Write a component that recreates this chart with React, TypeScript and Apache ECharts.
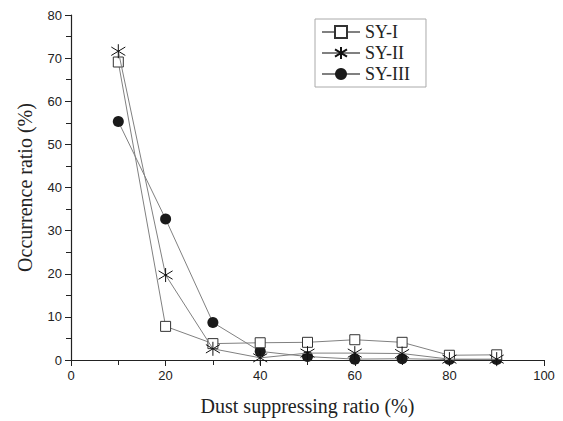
import React, { useEffect, useRef } from "react";
import * as echarts from "echarts";

const xValues = [10, 20, 30, 40, 50, 60, 70, 80, 90];
const syI = [69.1, 7.8, 3.8, 4.0, 4.1, 4.7, 4.1, 1.1, 1.2];
const syII = [71.6, 19.7, 2.6, 0.5, 1.6, 1.6, 1.5, 0.2, 0.2];
const syIII = [55.3, 32.7, 8.7, 2.0, 0.8, 0.2, 0.3, 0.1, 0.1];
const seriesNames = ["SY-I", "SY-II", "SY-III"];

const starPath = "path://M0,-10L0,10M-8,-6L8,6M-8,6L8,-6";

export default function App() {
  const ref = useRef<HTMLDivElement>(null);
  useEffect(() => {
    const chart = echarts.init(ref.current!, null, { renderer: "svg" });
    const mk = (arr: number[]) => xValues.map((x, i) => [x, arr[i]]);
    const lineStyle = { color: "#808080", width: 1 };
    chart.setOption({
      animation: false,
      backgroundColor: "#fff",
      grid: { left: 71, right: 19, top: 15, bottom: 57 },
      legend: {
        orient: "vertical",
        left: 315,
        top: 19,
        width: 111,
        borderColor: "#aaa",
        borderWidth: 1,
        padding: [4, 16, 4, 6],
        itemGap: 3,
        itemWidth: 38,
        itemHeight: 15,
        textStyle: { fontFamily: "Liberation Serif", fontSize: 18, color: "#222" },
        data: seriesNames,
      },
      xAxis: {
        type: "value",
        min: 0,
        max: 100,
        interval: 20,
        name: "Dust suppressing ratio (%)",
        nameLocation: "middle",
        nameGap: 36,
        nameTextStyle: { fontFamily: "Liberation Serif", fontSize: 20, color: "#222" },
        axisLine: { lineStyle: { color: "#222", width: 1.2 } },
        axisTick: { show: true, inside: false, length: 6, lineStyle: { color: "#222" } },
        minorTick: { show: true, splitNumber: 2, length: 5, lineStyle: { color: "#222" } },
        axisLabel: { fontFamily: "Liberation Sans", fontSize: 13, color: "#222", margin: 9 },
        splitLine: { show: false },
      },
      yAxis: {
        type: "value",
        min: 0,
        max: 80,
        interval: 10,
        name: "Occurrence ratio (%)",
        nameLocation: "middle",
        nameGap: 36,
        nameTextStyle: { fontFamily: "Liberation Serif", fontSize: 20, color: "#222" },
        axisLine: { show: true, lineStyle: { color: "#222", width: 1.2 } },
        axisTick: { show: true, inside: false, length: 6, lineStyle: { color: "#222" } },
        minorTick: { show: true, splitNumber: 2, length: 5, lineStyle: { color: "#222" } },
        axisLabel: { fontFamily: "Liberation Sans", fontSize: 13, color: "#222", margin: 9 },
        splitLine: { show: false },
      },
      series: [
        {
          name: seriesNames[0],
          type: "line",
          data: mk(syI),
          symbol: "rect",
          symbolSize: 10,
          showAllSymbol: true,
          lineStyle,
          itemStyle: { color: "#fff", borderColor: "#333", borderWidth: 1 },
          z: 3,
        },
        {
          name: seriesNames[1],
          type: "line",
          data: mk(syII),
          symbol: starPath,
          symbolSize: 14,
          showAllSymbol: true,
          lineStyle,
          itemStyle: { color: "none", borderColor: "#111", borderWidth: 1 },
          z: 4,
        },
        {
          name: seriesNames[2],
          type: "line",
          data: mk(syIII),
          symbol: "circle",
          symbolSize: 11,
          showAllSymbol: true,
          lineStyle,
          itemStyle: { color: "#1a1a1a", borderWidth: 0 },
          z: 2,
        },
      ],
    });
    return () => chart.dispose();
  }, []);
  return <div ref={ref} style={{ width: 563, height: 421, position: "absolute", left: 0, top: 0 }} />;
}
